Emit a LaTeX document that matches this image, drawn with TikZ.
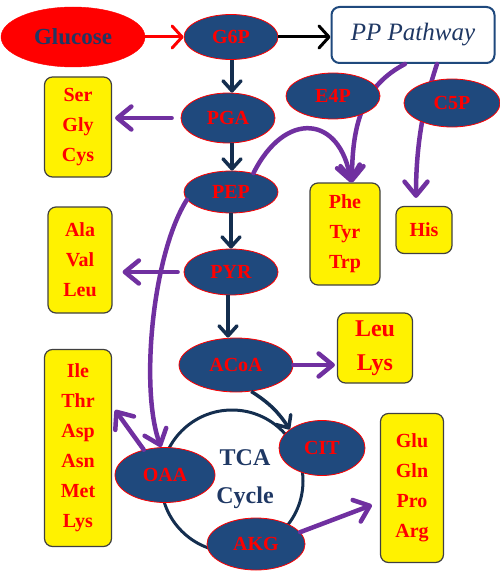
\documentclass[tikz,border=0pt]{standalone}
\usepackage{fontspec}
\setmainfont{Liberation Serif}
\usetikzlibrary{shapes.geometric,arrows.meta}
\definecolor{navy}{HTML}{1F497D}
\definecolor{darknavy}{HTML}{142E4F}
\definecolor{txtnavy}{HTML}{1F3864}
\definecolor{purp}{HTML}{7030A0}
\definecolor{boxedge}{HTML}{404040}
\begin{document}
\begin{tikzpicture}[x=1pt,y=-1pt,
  met/.style={ellipse, draw=red, line width=0.8pt, fill=navy, text=red,
    font=\bfseries\fontsize{20}{24}\selectfont, inner sep=0pt},
  aabox/.style={draw=boxedge, line width=1.2pt, fill=yellow, rounded corners=8pt,
    text=red, font=\bfseries\fontsize{20}{30}\selectfont, align=center, inner sep=0pt},
  darr/.style={draw=darknavy, line width=3.5pt, -{Straight Barb[length=10pt,width=18pt,round]}},
  parr/.style={draw=purp, line width=4.5pt, line cap=round, -{Straight Barb[length=14pt,width=23pt,round]}},
  rarr/.style={draw=red, line width=3pt, -{Straight Barb[length=10pt,width=22pt,round]}},
  karr/.style={draw=black, line width=3pt, -{Straight Barb[length=10pt,width=22pt,round]}}]
\useasboundingbox (0,0) rectangle (500,575);

% TCA cycle ring
\node[circle, draw=darknavy, line width=3pt, minimum size=142pt, inner sep=0pt] (tca) at (232,481) {};
\node[text=txtnavy, font=\bfseries\fontsize{24}{38}\selectfont, align=center] (tcatext) at (245,479) {TCA\\Cycle};

% boxes
\node[aabox, minimum width=67pt, minimum height=100pt] (ser) at (78,127) {Ser\\Gly\\Cys};
\node[aabox, minimum width=64pt, minimum height=106pt] (ala) at (80,260) {Ala\\Val\\Leu};
\node[aabox, minimum width=67pt, minimum height=197pt] (ile) at (78,448) {Ile\\Thr\\Asp\\Asn\\Met\\Lys};
\node[aabox, minimum width=70pt, minimum height=102pt] (phe) at (345,234) {Phe\\Tyr\\Trp};
\node[aabox, minimum width=56pt, minimum height=47pt] (his) at (424,230) {His};
\node[aabox, minimum width=75pt, minimum height=70pt, font=\bfseries\fontsize{24}{34}\selectfont] (leulys) at (375,348) {Leu\\Lys};
\node[aabox, minimum width=63pt, minimum height=149pt] (glu) at (412,488) {Glu\\Gln\\Pro\\Arg};

% PP pathway box
\node[draw=navy, line width=2pt, fill=white, rounded corners=8pt, minimum width=163pt, minimum height=56pt,
  text=txtnavy, font=\itshape\fontsize{25}{29}\selectfont, inner sep=0pt] (pp) at (413,35) {PP Pathway};

% purple curves behind E4P / C5P
\draw[parr] ([xshift=-8pt]pp.south) .. controls (365,85) and (352,120) .. ([xshift=7pt]phe.north);
\draw[parr] ([xshift=24pt]pp.south) .. controls (425,100) and (416,140) .. ([shift={(-8,-8)}]his.north);

\node[met, minimum width=94pt, minimum height=46pt] (e4p) at (333,96) {E4P};
\node[met, minimum width=96pt, minimum height=48pt] (c5p) at (452,103) {C5P};

% glucose and metabolites
\node[ellipse, draw=red, fill=red, text=txtnavy, font=\bfseries\fontsize{23}{27}\selectfont,
  minimum width=144pt, minimum height=60pt, inner sep=0pt] (glucose) at (73,37) {Glucose};
\node[met, minimum width=94pt, minimum height=45pt] (g6p) at (231,37) {G6P};
\node[met, minimum width=94pt, minimum height=50pt] (pga) at (228,118) {PGA};
\node[met, minimum width=94pt, minimum height=42pt] (pep) at (231,192) {PEP};
\node[met, minimum width=94pt, minimum height=46pt] (pyr) at (231,272) {PYR};
\node[met, minimum width=114pt, minimum height=54pt] (acoa) at (236,365) {ACoA};
\node[met, minimum width=86pt, minimum height=55pt] (cit) at (322,448) {CIT};
\node[met, minimum width=100pt, minimum height=55pt] (oaa) at (165,475) {OAA};
\node[met, minimum width=98pt, minimum height=52pt] (akg) at (256,544) {AKG};

% main arrows
\draw[rarr] (glucose.east) -- (g6p.west);
\draw[karr] (g6p.east) -- (g6p.east -| pp.west);
\draw[darr] ([xshift=1pt]g6p.south) -- ([xshift=1pt]g6p.south |- pga.north);
\draw[darr] ([xshift=4pt]pga.south) -- ([xshift=4pt]pga.south |- pep.north);
\draw[darr] (pep.south) -- (pep.south |- pyr.north);
\draw[darr] ([xshift=-3pt]pyr.south) -- ([xshift=-3pt]pyr.south |- acoa.north);
\draw[darr] (acoa.-60) to[bend left=12] (cit.150);

% purple arrows
\draw[parr, shorten <=9pt] (pga.west) -- ([xshift=3pt]ser.east |- pga.west);
\draw[parr] ([xshift=-6pt]pyr.west) -- ([xshift=10pt]ala.east |- pyr.west);
\draw[parr] (acoa.east) -- ([xshift=-2pt]leulys.west |- acoa.east);
\draw[parr] (pep.40) .. controls (285,110) and (340,115) .. ([xshift=6pt]phe.north);
\draw[parr] (pep.190) .. controls (152,255) and (140,390) .. ([xshift=-4pt]oaa.north);
\draw[parr] (oaa.130) -- ([shift={(3,-38)}]ile.east);
\draw[parr] (akg.15) -- ([shift={(-8,17)}]glu.west);
\end{tikzpicture}
\end{document}
